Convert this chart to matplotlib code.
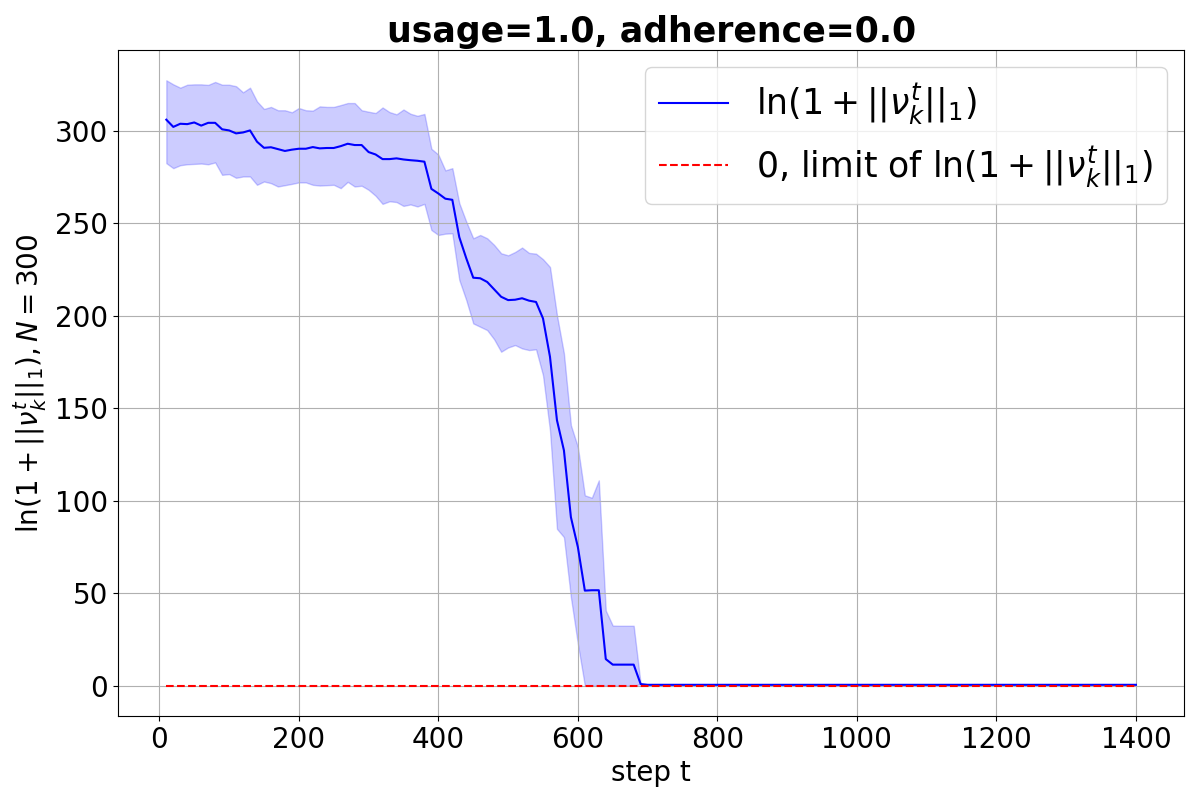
import numpy as np
import matplotlib
matplotlib.use("Agg")
import matplotlib.pyplot as plt

steps = list(range(10, 1410, 10))

mean_head = [305.9, 302.0, 303.7, 303.5, 304.4, 302.7, 304.2, 304.2, 300.7, 300.1,
             298.5, 299.0, 300.1, 294.0, 290.7, 291.0, 290.0, 289.0, 289.7, 290.2,
             290.2, 291.1, 290.4, 290.6, 290.6, 291.6, 292.9, 292.2, 292.2, 288.4,
             287.1, 284.6, 284.6, 285.0, 284.4, 284.0, 283.7, 283.2, 268.5, 266.0,
             263.2, 262.6, 242.4, 231.0, 220.5, 220.2, 218.2, 214.2, 210.2, 208.4,
             208.6, 209.4, 208.1, 207.4, 198.5, 177.8, 143.5, 127.2, 91.1, 74.9,
             51.4, 51.6, 51.6, 14.4, 11.4, 11.4, 11.4, 11.4, 0.9]
upper_head = [327.2, 325.0, 323.2, 324.8, 325.0, 325.0, 324.7, 326.3, 324.8, 324.8,
              324.0, 320.7, 323.2, 315.8, 311.7, 312.8, 311.0, 311.0, 309.9, 312.2,
              311.0, 310.8, 313.1, 312.8, 312.8, 313.8, 314.9, 314.9, 311.0, 310.2,
              309.5, 312.5, 310.0, 308.8, 311.4, 309.1, 308.0, 309.0, 290.2, 287.0,
              278.5, 279.7, 260.8, 250.8, 241.8, 243.6, 241.8, 238.2, 233.7, 232.6,
              234.4, 236.8, 233.9, 233.5, 230.5, 226.3, 200.3, 179.6, 140.8, 129.0,
              102.9, 101.6, 111.0, 40.6, 32.5, 32.4, 32.4, 32.4, 0.9]
lower_head = [282.4, 279.7, 281.3, 281.8, 282.0, 282.2, 281.8, 282.8, 276.1, 276.5,
              274.5, 275.2, 275.2, 270.7, 272.5, 271.6, 269.8, 270.5, 271.2, 272.0,
              272.0, 270.7, 270.3, 270.5, 270.7, 268.9, 272.3, 269.8, 270.2, 268.0,
              264.8, 260.4, 261.8, 261.4, 259.3, 260.1, 259.0, 260.4, 246.3, 243.6,
              244.3, 244.5, 219.3, 208.4, 195.8, 194.0, 192.2, 187.2, 180.5, 182.8,
              184.1, 182.3, 181.4, 181.8, 167.8, 138.0, 84.8, 80.3, 47.8, 22.6,
              0.0, 0.0, 0.0, 0.0, 0.0, 0.0, 0.0, 0.0, 0.9]
tail_value = 0.5
n_tail = len(steps) - len(mean_head)
mean_vals = mean_head + [tail_value] * n_tail
upper_vals = upper_head + [tail_value] * n_tail
lower_vals = lower_head + [tail_value] * n_tail
limit_vals = [0.0] * len(steps)

fig, ax = plt.subplots(figsize=(12, 8), dpi=100)
ax.plot(steps, mean_vals, 'b-', linewidth=1.5, label=r'$\ln(1+||\nu_k^t||_1)$')
ax.fill_between(steps, lower_vals, upper_vals, color='blue', alpha=0.2)
ax.plot(steps, limit_vals, 'r--', linewidth=1.5, label=r'0, limit of $\ln(1+||\nu_k^t||_1)$')
ax.set_title('usage=1.0, adherence=0.0', fontsize=25, fontweight='bold')
ax.set_xlabel('step t', fontsize=20)
ax.set_ylabel(r'$\ln(1+||\nu_k^t||_1), N=300$', fontsize=20)
ax.tick_params(axis='both', labelsize=20)
ax.grid(True)
ax.legend(fontsize=25, loc='upper right')
fig.subplots_adjust(left=0.0982, right=0.987, top=0.9375, bottom=0.105)
fig.savefig('out.png', dpi=100)
